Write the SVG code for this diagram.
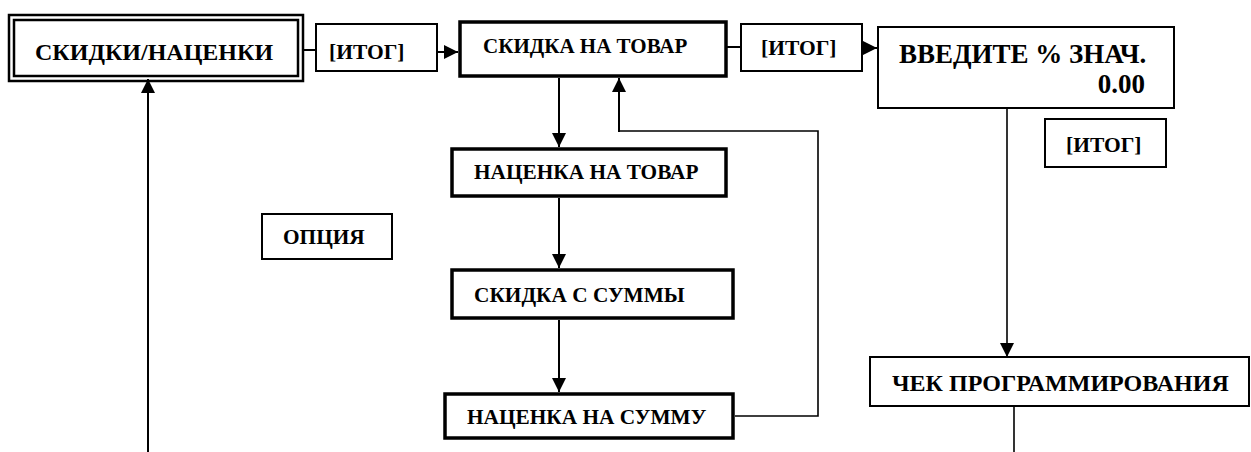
<svg xmlns="http://www.w3.org/2000/svg" width="1251" height="452" viewBox="0 0 1251 452">
<style>
  .thick { fill: #fff; stroke: #000; stroke-width: 3.5; }
  .thin { fill: #fff; stroke: #000; stroke-width: 2; }
  .dbl { fill: none; stroke: #000; stroke-width: 2.5; }
  .conn { fill: none; stroke: #000; stroke-width: 2; }
  .conn-thin { fill: none; stroke: #000; stroke-width: 1.6; }
</style>
<defs>
  <marker id="arr" viewBox="0 0 14 14" refX="14" refY="7" markerWidth="14" markerHeight="14" markerUnits="userSpaceOnUse" orient="auto">
    <path d="M0,0 L14,7 L0,14 Z" fill="#000"/>
  </marker>
</defs>
<rect width="1251" height="452" fill="#fff"/>

<g id="connectors">
  <line class="conn" x1="304" y1="50" x2="316" y2="50"/>
  <line class="conn" x1="437" y1="52" x2="458" y2="52" marker-end="url(#arr)"/>
  <line class="conn" x1="727" y1="47" x2="741" y2="47"/>
  <line class="conn" x1="862" y1="48" x2="877" y2="48" marker-end="url(#arr)"/>
  <line class="conn" x1="559" y1="78" x2="559" y2="147" marker-end="url(#arr)"/>
  <line class="conn" x1="559" y1="198" x2="559" y2="268" marker-end="url(#arr)"/>
  <line class="conn" x1="559" y1="320" x2="559" y2="392" marker-end="url(#arr)"/>
  <polyline class="conn-thin" points="735,416 818,416 818,131 619,131"/>
  <line class="conn" x1="619" y1="132" x2="619" y2="78" marker-end="url(#arr)"/>
  <line class="conn-thin" x1="1007" y1="108" x2="1007" y2="357" marker-end="url(#arr)"/>
  <line class="conn-thin" x1="1014" y1="406" x2="1014" y2="452"/>
  <line class="conn" x1="148" y1="452" x2="148" y2="79" marker-end="url(#arr)"/>
</g>

<g id="node-skidki-nacenki">
  <rect class="dbl" x="9" y="15" width="294" height="66"/>
  <rect class="dbl" x="14" y="20" width="284" height="56"/>
  <text x="35" y="60" font-family="Liberation Serif" font-weight="bold" font-size="24">СКИДКИ/НАЦЕНКИ</text>
</g>

<g id="node-itog-1">
  <rect class="thin" x="316" y="24" width="121" height="47"/>
  <text x="329" y="59" font-family="Liberation Serif" font-weight="bold" font-size="21.5">[ИТОГ]</text>
</g>

<g id="node-skidka-na-tovar">
  <rect class="thick" x="460" y="22" width="266" height="54"/>
  <text x="483" y="53" font-family="Liberation Serif" font-weight="bold" font-size="21">СКИДКА НА ТОВАР</text>
</g>

<g id="node-itog-2">
  <rect class="thin" x="741" y="24" width="121" height="47"/>
  <text x="761" y="55" font-family="Liberation Serif" font-weight="bold" font-size="21.5">[ИТОГ]</text>
</g>

<g id="node-vvedite">
  <rect class="thin" x="878" y="27" width="296" height="81"/>
  <text x="899" y="63" font-family="Liberation Serif" font-weight="bold" font-size="27">ВВЕДИТЕ % ЗНАЧ.</text>
  <text x="1145" y="93" font-family="Liberation Serif" font-weight="bold" font-size="27" text-anchor="end">0.00</text>
</g>

<g id="node-itog-3">
  <rect class="thin" x="1045" y="119" width="121" height="48"/>
  <text x="1066" y="152" font-family="Liberation Serif" font-weight="bold" font-size="21.5">[ИТОГ]</text>
</g>

<g id="node-nacenka-na-tovar">
  <rect class="thick" x="452" y="149" width="274" height="47"/>
  <text x="474" y="179" font-family="Liberation Serif" font-weight="bold" font-size="21.3">НАЦЕНКА НА ТОВАР</text>
</g>

<g id="node-skidka-s-summy">
  <rect class="thick" x="452" y="270" width="281" height="48"/>
  <text x="474" y="302" font-family="Liberation Serif" font-weight="bold" font-size="21.3">СКИДКА С СУММЫ</text>
</g>

<g id="node-nacenka-na-summu">
  <rect class="thick" x="445" y="394" width="288" height="44"/>
  <text x="467" y="424" font-family="Liberation Serif" font-weight="bold" font-size="21.3">НАЦЕНКА НА СУММУ</text>
</g>

<g id="node-opciya">
  <rect class="thin" x="262" y="214" width="130" height="45"/>
  <text x="283" y="244" font-family="Liberation Serif" font-weight="bold" font-size="21.3">ОПЦИЯ</text>
</g>

<g id="node-chek">
  <rect class="thin" x="870" y="357" width="379" height="49"/>
  <text x="892" y="391" font-family="Liberation Serif" font-weight="bold" font-size="24">ЧЕК ПРОГРАММИРОВАНИЯ</text>
</g>
</svg>
